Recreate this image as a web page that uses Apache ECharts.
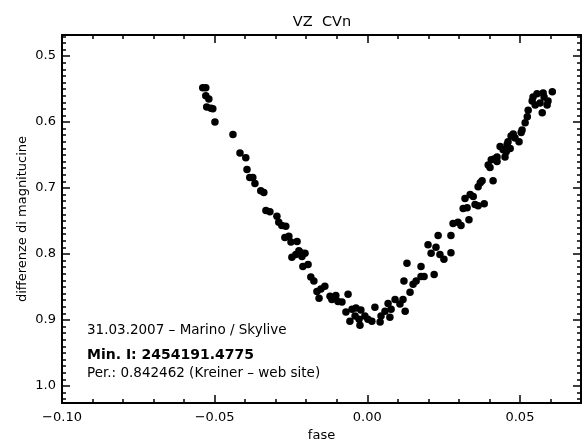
<!DOCTYPE html>
<html><head><meta charset="utf-8">
<script src="https://cdn.jsdelivr.net/npm/echarts@6/dist/echarts.min.js"></script>
<style>html,body{margin:0;padding:0;background:#fff}#c{width:588px;height:441px}</style>
</head><body><div id="c"></div>
<script>
const phase = [
-0.0539,-0.0529,-0.0529,-0.0519,-0.0526,-0.0512,-0.0506,-0.0499,-0.0440,-0.0417,
-0.0398,-0.0394,-0.0385,-0.0375,-0.0368,-0.0349,-0.0339,-0.0332,-0.0319,-0.0296,
-0.0290,-0.0280,-0.0267,-0.0270,-0.0257,-0.0250,-0.0230,-0.0247,-0.0234,-0.0224,
-0.0217,-0.0204,-0.0214,-0.0211,-0.0194,-0.0185,-0.0175,-0.0165,-0.0152,-0.0139,
-0.0158,-0.0122,-0.0116,-0.0103,-0.0096,-0.0083,-0.0063,-0.0070,-0.0050,-0.0037,
-0.0021,-0.0057,-0.0040,-0.0027,-0.0024,-0.0008,0.0002,0.0015,0.0025,0.0042,
0.0045,0.0058,0.0074,0.0068,0.0078,0.0091,0.0107,0.0117,0.0124,0.0120,
0.0130,0.0140,0.0150,0.0160,0.0176,0.0186,0.0176,0.0219,0.0199,0.0209,
0.0225,0.0232,0.0238,0.0251,0.0274,0.0274,0.0281,0.0297,0.0307,0.0333,
0.0314,0.0327,0.0320,0.0337,0.0347,0.0353,0.0363,0.0383,0.0370,0.0376,
0.0363,0.0412,0.0396,0.0402,0.0415,0.0425,0.0425,0.0406,0.0451,0.0435,
0.0445,0.0455,0.0458,0.0468,0.0461,0.0471,0.0478,0.0484,0.0497,0.0507,
0.0504,0.0517,0.0524,0.0527,0.0540,0.0543,0.0556,0.0576,0.0606,0.0550,
0.0566,0.0579,0.0592,0.0589,0.0573
];
const deltaMag = [
0.548,0.548,0.560,0.565,0.577,0.579,0.580,0.600,0.619,0.647,
0.654,0.672,0.684,0.684,0.693,0.704,0.707,0.734,0.736,0.743,
0.752,0.757,0.758,0.775,0.773,0.782,0.781,0.805,0.801,0.795,
0.798,0.799,0.804,0.819,0.816,0.835,0.841,0.857,0.853,0.849,
0.867,0.864,0.869,0.863,0.872,0.873,0.861,0.888,0.884,0.882,
0.885,0.902,0.894,0.899,0.908,0.894,0.899,0.902,0.881,0.903,
0.894,0.887,0.896,0.875,0.884,0.869,0.876,0.869,0.887,0.841,
0.814,0.858,0.846,0.841,0.834,0.834,0.819,0.831,0.786,0.799,
0.790,0.772,0.801,0.808,0.798,0.772,0.754,0.752,0.757,0.748,
0.731,0.730,0.716,0.710,0.713,0.725,0.727,0.724,0.692,0.689,
0.698,0.689,0.665,0.669,0.656,0.653,0.660,0.657,0.653,0.637,
0.642,0.645,0.634,0.640,0.630,0.621,0.618,0.624,0.630,0.612,
0.616,0.601,0.592,0.582,0.568,0.562,0.557,0.556,0.554,0.574,
0.571,0.562,0.568,0.574,0.586
];
const xTickValues = [-0.10, -0.05, 0.00, 0.05];
const yTickValues = [0.5, 0.6, 0.7, 0.8, 0.9, 1.0];
const yMinorValues = [];
for (let i = 47; i <= 102; i++) yMinorValues.push(i / 100);
const chartTitle = 'VZ  CVn';
const xName = 'fase';
const yName = 'differenze di magnitucine';
const note1 = '31.03.2007 \u2013 Marino / Skylive';
const note2 = 'Min. I: 2454191.4775';
const note3 = 'Per.: 0.842462 (Kreiner \u2013 web site)';

const FONT = 'DejaVu Sans';
const X_MIN = -0.10, X_MAX = 0.07, Y_MIN = 0.468, Y_MAX = 1.026;

function xAx(pos, major, labels) {
  return {
    type: 'value', position: pos, min: X_MIN, max: X_MAX,
    interval: major ? 0.05 : 0.01,
    axisLine: { show: major, onZero: false, lineStyle: { color: '#000', width: 2 } },
    axisTick: { show: true, inside: true, length: major ? 8 : 4, lineStyle: { color: '#000', width: 1.5 } },
    axisLabel: labels ? {
      show: true, color: '#000', fontFamily: FONT, fontSize: 13, margin: 8,
      showMaxLabel: false,
      formatter: v => (Math.abs(v) < 1e-9 ? '0.00' : v.toFixed(2).replace('-', '\u2212'))
    } : { show: false },
    splitLine: { show: false },
    name: labels ? xName : '', nameLocation: 'middle', nameGap: 26,
    nameTextStyle: { color: '#000', fontFamily: FONT, fontSize: 13 }
  };
}
function yAx(pos, major, labels) {
  const vals = major ? yTickValues : yMinorValues;
  return {
    type: 'value', position: pos, inverse: true, min: Y_MIN, max: Y_MAX,
    axisLine: { show: major, onZero: false, lineStyle: { color: '#000', width: 2 } },
    axisTick: { show: true, inside: true, length: major ? 8 : 4, customValues: vals, lineStyle: { color: '#000', width: 1.5 } },
    axisLabel: labels ? {
      show: true, color: '#000', fontFamily: FONT, fontSize: 13, margin: 6,
      customValues: yTickValues, formatter: v => v.toFixed(1)
    } : { show: false, customValues: vals },
    splitLine: { show: false },
    name: labels ? yName : '', nameLocation: 'middle', nameGap: 33, nameMoveOverlap: false,
    nameTextStyle: { color: '#000', fontFamily: FONT, fontSize: 13 }
  };
}

const chart = echarts.init(document.getElementById('c'), null, { renderer: 'canvas' });
chart.setOption({
  backgroundColor: '#fff',
  animation: false,
  grid: { left: 62, right: 7, top: 35, bottom: 38, containLabel: false, outerBoundsMode: 'none' },
  xAxis: [xAx('bottom', true, true), xAx('bottom', false, false), xAx('top', true, false), xAx('top', false, false)],
  yAxis: [yAx('left', true, true), yAx('left', false, false), yAx('right', true, false), yAx('right', false, false)],
  series: [{
    type: 'scatter', xAxisIndex: 0, yAxisIndex: 0,
    data: phase.map((p, i) => [p, deltaMag[i]]),
    symbol: 'circle', symbolSize: 7.5,
    itemStyle: { color: '#000', opacity: 1 }
  }],
  graphic: [
    { type: 'text', x: 322, y: 22, style: { text: chartTitle, fill: '#000', font: '14.5px "DejaVu Sans"', textAlign: 'center', textVerticalAlign: 'middle' } },
    { type: 'text', x: 87, y: 330, style: { text: note1, fill: '#000', font: '13.5px "DejaVu Sans"', textAlign: 'left', textVerticalAlign: 'middle' } },
    { type: 'text', x: 87, y: 355, style: { text: note2, fill: '#000', font: 'bold 14px "DejaVu Sans"', textAlign: 'left', textVerticalAlign: 'middle' } },
    { type: 'text', x: 87, y: 373, style: { text: note3, fill: '#000', font: '13.5px "DejaVu Sans"', textAlign: 'left', textVerticalAlign: 'middle' } }
  ]
});
</script></body></html>
